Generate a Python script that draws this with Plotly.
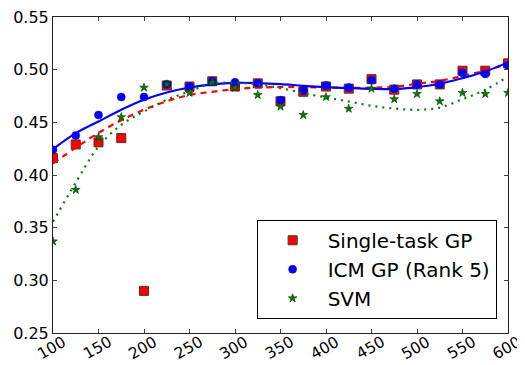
import plotly.graph_objects as go

x_vals = [100, 125, 150, 175, 200, 225, 250, 275, 300, 325, 350,
          375, 400, 425, 450, 475, 500, 525, 550, 575, 600]

single_task = [0.416, 0.429, 0.431, 0.435, 0.290, 0.485, 0.484, 0.489, 0.484, 0.487, 0.470,
               0.479, 0.484, 0.482, 0.491, 0.481, 0.486, 0.486, 0.499, 0.499, 0.506]
icm_gp = [0.424, 0.4375, 0.457, 0.474, 0.474, 0.486, 0.484, 0.489, 0.488, 0.487, 0.471,
          0.480, 0.485, 0.483, 0.490, 0.482, 0.486, 0.486, 0.497, 0.496, 0.504]
svm = [0.337, 0.386, 0.436, 0.455, 0.483, 0.486, 0.478, 0.488, 0.483, 0.476, 0.465,
       0.457, 0.474, 0.463, 0.482, 0.472, 0.477, 0.470, 0.478, 0.477, 0.478]

single_fit = [0.411, 0.426, 0.440, 0.452, 0.462, 0.470, 0.476, 0.479, 0.4815, 0.483, 0.4835,
              0.4835, 0.483, 0.4828, 0.4828, 0.4838, 0.4866, 0.4894, 0.494, 0.499, 0.5056]
icm_fit = [0.4245, 0.4397, 0.4508, 0.4619, 0.4714, 0.4783, 0.4831, 0.486, 0.4875, 0.4873, 0.4863,
           0.4847, 0.4834, 0.4825, 0.4818, 0.4816, 0.4834, 0.4866, 0.492, 0.4983, 0.5069]
svm_fit = [0.3557, 0.3928, 0.427, 0.4476, 0.4603, 0.4714, 0.4793, 0.487, 0.4875, 0.486, 0.4825,
           0.4778, 0.4736, 0.4698, 0.4657, 0.4631, 0.4619, 0.464, 0.472, 0.4809, 0.4935]

x_ticks = [100, 150, 200, 250, 300, 350, 400, 450, 500, 550, 600]
y_ticks = [0.25, 0.30, 0.35, 0.40, 0.45, 0.50, 0.55]

FONT = "DejaVu Sans"

fig = go.Figure()

fig.add_trace(go.Scatter(x=x_vals, y=single_task, mode="markers", name="Single-task GP",
                         marker=dict(symbol="square", size=9, color="#ff0000",
                                     line=dict(color="#5a2a2a", width=1))))
fig.add_trace(go.Scatter(x=x_vals, y=single_fit, mode="lines", showlegend=False,
                         line=dict(color="#ff0000", width=2.2, dash="6px,5px", shape="spline")))
fig.add_trace(go.Scatter(x=x_vals, y=icm_gp, mode="markers", name="ICM GP (Rank 5)",
                         marker=dict(symbol="circle", size=8, color="#0000ff",
                                     line=dict(color="#0000cc", width=0.5))))
fig.add_trace(go.Scatter(x=x_vals, y=icm_fit, mode="lines", showlegend=False,
                         line=dict(color="#0000ff", width=2.2, shape="spline")))
fig.add_trace(go.Scatter(x=x_vals, y=svm, mode="markers", name="SVM",
                         marker=dict(symbol="star", size=6.5, color="#007f00",
                                     line=dict(color="#003300", width=0.6))))
fig.add_trace(go.Scatter(x=x_vals, y=svm_fit, mode="lines", showlegend=False,
                         line=dict(color="#008000", width=2.2, dash="2px,5px", shape="spline")))

axis_common = dict(showline=True, linecolor="#222222", linewidth=1, mirror="allticks",
                   ticks="inside", ticklen=4, tickcolor="#444444", tickwidth=1,
                   showgrid=False, zeroline=False, automargin=False,
                   ticklabeloverflow="allow",
                   tickfont=dict(family=FONT, size=16, color="black"))

fig.update_xaxes(range=[100, 600], tickvals=x_ticks, showticklabels=False, **axis_common)
fig.update_yaxes(range=[0.25, 0.55], tickvals=y_ticks, ticktext=[f"{v:.2f}" for v in y_ticks],
                 **axis_common)

# x tick labels rotated 30 degrees and centred under each tick
for v in x_ticks:
    fig.add_annotation(x=v, xref="x", y=0, yref="paper", text=str(v), showarrow=False,
                       textangle=-30, xanchor="center", yanchor="top", yshift=1.5, xshift=-1,
                       font=dict(family=FONT, size=15.5, color="black"), borderpad=0)

# the page body adds an 8px offset, so the figure is sized to end at the window edge
fig.update_layout(
    width=517, height=357,
    margin=dict(l=45, r=17, t=9, b=32),
    paper_bgcolor="white", plot_bgcolor="white",
    font=dict(family=FONT, size=16, color="black"),
    legend=dict(x=0.975, xanchor="right", y=0.045, yanchor="bottom",
                bordercolor="black", borderwidth=1, bgcolor="white",
                font=dict(family=FONT, size=20, color="black"),
                itemwidth=60, tracegroupgap=4),
)

fig.write_html("out.html")
